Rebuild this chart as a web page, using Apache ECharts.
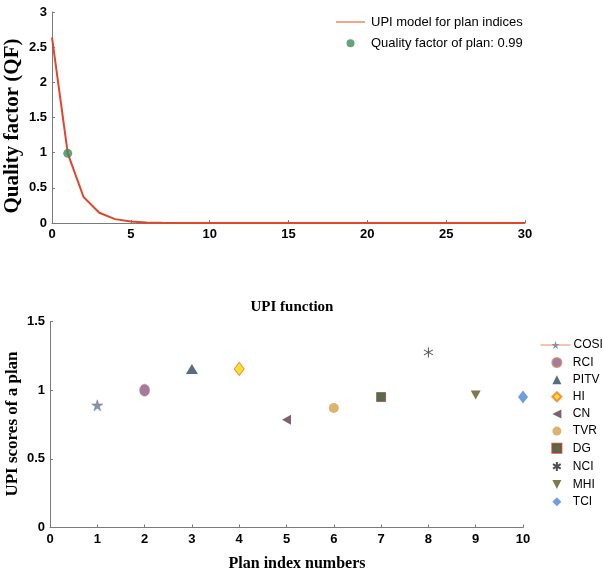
<!DOCTYPE html>
<html><head><meta charset="utf-8">
<script src="https://cdn.jsdelivr.net/npm/echarts@6/dist/echarts.min.js"></script>
<style>html,body{margin:0;padding:0;background:#fff}#c{width:604px;height:578px}</style>
</head><body><div id="c"></div>
<script>
// ---- Top panel: UPI model curve ----
const qfX = [0,1,2,3,4,5,6,7,8,9,10,11,12,13,14,15,16,17,18,19,20,21,22,23,24,25,26,27,28,29,30];
const qfY = [2.64,0.99,0.37,0.145,0.055,0.02,0.008,0.003,0.001,0,0,0,0,0,0,0,0,0,0,0,0,0,0,0,0,0,0,0,0,0,0];
const planX = [1];
const planQF = [0.99];
const topNames = ['UPI model for plan indices', 'Quality factor of plan: 0.99'];
// ---- Bottom panel: UPI scores ----
const indices = ['COSI','RCI','PITV','HI','CN','TVR','DG','NCI','MHI','TCI'];
const planIdx = [1,2,3,4,5,6,7,8,9,10];
const upiScores = [0.89,1.0,1.155,1.155,0.785,0.87,0.95,1.275,0.965,0.95];

const SANS = "'Liberation Sans',Arial,sans-serif";
const SERIF = "'Liberation Serif','Times New Roman',serif";

const symbols = {
  COSI: {symbol:'path://M5,0L6.2,3.6L10,3.6L6.9,5.9L8.1,9.5L5,7.3L1.9,9.5L3.1,5.9L0,3.6L3.8,3.6Z', size:11, color:'#8494ac', border:'#6a7a90', bw:0.5},
  RCI: {symbol:'circle', size:[10,12], color:'#8c5a86', border:'#c08070', bw:0.6},
  PITV: {symbol:'triangle', size:[12,10], color:'#2c4a5c', border:'#2c4a5c', bw:0},
  HI: {symbol:'diamond', size:[10,13], color:'#ffd800', border:'#f07a20', bw:1},
  CN: {symbol:'path://M10,0L0,5L10,10Z', size:[9,10], color:'#5c3a4e', border:'#5c3a4e', bw:0},
  TVR: {symbol:'circle', size:[10,10], color:'#d4a04a', border:'#d4a04a', bw:0},
  DG: {symbol:'rect', size:[9,9], color:'#2c4620', border:'#9a3a22', bw:0.8},
  NCI: {symbol:'path://M5,0L5,10M0.7,2.5L9.3,7.5M0.7,7.5L9.3,2.5', size:[9,10], color:'none', border:'#222222', bw:1},
  MHI: {symbol:'path://M0,0L10,0L5,10Z', size:[10,9], color:'#5a5a22', border:'#5a5a22', bw:0},
  TCI: {symbol:'diamond', size:[10,13], color:'#4a86d8', border:'#4a86d8', bw:0}
};

const bottomSeries = indices.map((name, i) => {
  const s = symbols[name];
  const base = {
    name: name,
    xAxisIndex: 1, yAxisIndex: 1,
    data: [[planIdx[i], upiScores[i]]],
    symbol: s.symbol,
    symbolSize: s.size,
    itemStyle: {color: s.color, borderColor: s.border, borderWidth: s.bw},
    z: 3
  };
  if (name === 'COSI') {
    return Object.assign(base, {type: 'line', showSymbol: true, lineStyle: {color: '#f4845f', width: 1}});
  }
  return Object.assign(base, {type: 'scatter'});
});

const axisLabel = {color: '#000', fontWeight: 'bold', fontSize: 13, fontFamily: SANS, margin: 5};
const axisLine = {show: true, lineStyle: {color: '#7a7a7a', width: 1}};
const axisTick = {show: true, inside: true, length: 3, lineStyle: {color: '#7a7a7a'}};
const legendText = {fontFamily: SANS, fontSize: 13, color: '#000'};
const legendText2 = {fontFamily: SANS, fontSize: 12, color: '#000'};

const chart = echarts.init(document.getElementById('c'), null, {renderer: 'canvas'});
chart.setOption({
  animation: false,
  backgroundColor: '#fff',
  grid: [
    {left: 52, right: 79, top: 12, bottom: 355},
    {left: 50, right: 81, top: 321.5, bottom: 50.5}
  ],
  xAxis: [
    {type: 'value', gridIndex: 0, min: 0, max: 30, interval: 5, axisLine, axisTick, axisLabel, splitLine: {show: false}},
    {type: 'value', gridIndex: 1, min: 0, max: 10, interval: 1, axisLine, axisTick, axisLabel, splitLine: {show: false}}
  ],
  yAxis: [
    {type: 'value', gridIndex: 0, min: 0, max: 3, interval: 0.5, axisLine, axisTick, axisLabel, splitLine: {show: false}},
    {type: 'value', gridIndex: 1, min: 0, max: 1.5, interval: 0.5, axisLine, axisTick, axisLabel, splitLine: {show: false}}
  ],
  legend: [
    {
      data: [
        {name: topNames[0], icon: 'path://M0,0L29,0L29,1.5L0,1.5Z', itemStyle: {color: '#f4845f'}},
        {name: topNames[1], icon: 'circle'}
      ],
      orient: 'vertical', left: 331, top: 10.5,
      itemWidth: 29, itemHeight: 8, itemGap: 8.2,
      textStyle: Object.assign({}, legendText, {padding: [0,0,0,1]})
    },
    {
      data: [{name: 'COSI', lineStyle: {color: '#f4845f', width: 1}, itemStyle: {color: '#8494ac', borderWidth: 0}}],
      orient: 'vertical', left: 535, top: 334,
      itemWidth: 30, itemHeight: 10,
      textStyle: Object.assign({}, legendText2, {padding: [0,0,0,-2]})
    },
    {
      data: indices.slice(1), orient: 'vertical', left: 545.5, top: 351.5,
      itemWidth: 9, itemHeight: 9, itemGap: 5.15,
      textStyle: Object.assign({}, legendText2, {padding: [0,0,0,6.5]})
    }
  ],
  graphic: [
    {type: 'text', x: 13, y: 126, rotation: Math.PI / 2,
      style: {text: 'Quality factor (QF)', font: "bold 21px " + SERIF, fill: '#000', align: 'center', verticalAlign: 'middle'}},
    {type: 'text', x: 13, y: 424, rotation: Math.PI / 2,
      style: {text: 'UPI scores of a plan', font: "bold 17px " + SERIF, fill: '#000', align: 'center', verticalAlign: 'middle'}},
    {type: 'text', x: 292, y: 307,
      style: {text: 'UPI function', font: "bold 15px " + SERIF, fill: '#000', align: 'center', verticalAlign: 'middle'}},
    {type: 'text', x: 297, y: 564,
      style: {text: 'Plan index numbers', font: "bold 16px " + SERIF, fill: '#000', align: 'center', verticalAlign: 'middle'}}
  ],
  series: [
    {
      name: topNames[0], type: 'line', xAxisIndex: 0, yAxisIndex: 0,
      data: qfX.map((x, i) => [x, qfY[i]]),
      symbol: 'none', lineStyle: {color: '#e2452a', width: 2}, itemStyle: {color: '#e2452a'}, z: 2
    },
    {
      name: topNames[1], type: 'scatter', xAxisIndex: 0, yAxisIndex: 0,
      data: planX.map((x, i) => [x, planQF[i]]),
      symbol: 'circle', symbolSize: 9, itemStyle: {color: '#3f8c5c'}, z: 3
    }
  ].concat(bottomSeries)
});
</script></body></html>
